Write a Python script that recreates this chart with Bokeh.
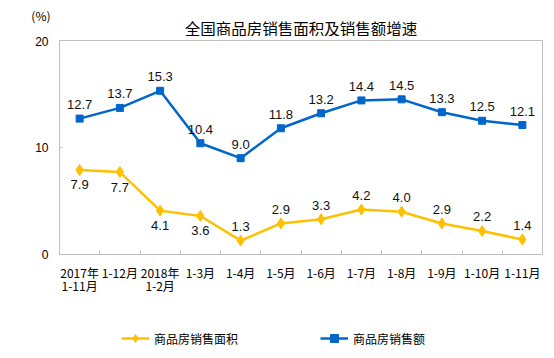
from bokeh.plotting import figure
from bokeh.layouts import column
from bokeh.models import (Range1d, LinearAxis, FixedTicker, Legend, LegendItem,
                          ColumnDataSource)
from bokeh.core.properties import value
from bokeh.embed import file_html
from bokeh.resources import INLINE

TITLE = "全国商品房销售面积及销售额增速"
UNIT = "(%)"
categories = ["2017年", "1-12月", "2018年", "1-3月", "1-4月", "1-5月",
              "1-6月", "1-7月", "1-8月", "1-9月", "1-10月", "1-11月"]
category_second_line = {0: "1-11月", 2: "1-2月"}
area_growth = [7.9, 7.7, 4.1, 3.6, 1.3, 2.9, 3.3, 4.2, 4.0, 2.9, 2.2, 1.4]
sales_growth = [12.7, 13.7, 15.3, 10.4, 9.0, 11.8, 13.2, 14.4, 14.5, 13.3, 12.5, 12.1]
area_label_below = [True, True, True, True, False, False, False, False, False, False, False, False]
y_ticks = [0, 10, 20]
series_names = ["商品房销售面积", "商品房销售额"]

YELLOW = "#FFC000"
BLUE = "#0066CC"
GRAY = "#BFBFBF"
CJK = "Noto Sans CJK SC"
LAT = "Liberation Sans"

n = len(categories)
xs = list(range(n))

BORDER_L, BORDER_R = 59, 12
W = 554

# ---- heading strip (pixel coordinates of the strip): title + unit label ----
HEAD_H = 36
head = figure(width=W, height=HEAD_H, x_range=Range1d(BORDER_L, W - BORDER_R),
              y_range=Range1d(HEAD_H, 0), output_backend="svg", toolbar_location=None,
              x_axis_type=None, title=None, outline_line_color=None,
              min_border_left=BORDER_L, min_border_right=BORDER_R,
              min_border_top=0, min_border_bottom=0)
head.xgrid.visible = False
head.ygrid.visible = False
hy = head.yaxis[0]
hy.ticker = FixedTicker(ticks=[15])
hy.major_label_overrides = {15: UNIT}
hy.axis_line_color = None
hy.major_tick_line_color = None
hy.minor_tick_line_color = None
hy.major_tick_in = 0
hy.major_tick_out = 0
hy.major_label_standoff = 9
hy.major_label_text_font = CJK
hy.major_label_text_font_size = "12px"
hy.major_label_text_color = "#000000"
head.text(x=[(BORDER_L + W - BORDER_R) / 2], y=[27.5], text=[TITLE], text_align="center",
          text_baseline="middle", text_font=value(CJK), text_font_size="15.5px",
          text_color="#000000")

# ---- main chart ----
p = figure(width=W, height=318 - HEAD_H, x_range=Range1d(-0.5, n - 0.5), y_range=Range1d(0, 20),
           output_backend="svg", toolbar_location=None, x_axis_type=None, title=None,
           min_border_left=BORDER_L, min_border_right=BORDER_R, min_border_top=40 - HEAD_H,
           min_border_bottom=64)
p.xgrid.visible = False
p.ygrid.visible = False
p.outline_line_color = GRAY
p.outline_line_width = 1

# x axis (first line of labels + boundary ticks)
xaxis = LinearAxis(ticker=FixedTicker(ticks=xs, minor_ticks=[i + 0.5 for i in range(n - 1)]))
xaxis.major_label_overrides = {i: c for i, c in enumerate(categories)}
xaxis.major_tick_in = 0
xaxis.major_tick_out = 0
xaxis.major_tick_line_color = None
xaxis.minor_tick_in = 4
xaxis.minor_tick_out = 0
xaxis.minor_tick_line_color = GRAY
xaxis.axis_line_color = GRAY
xaxis.major_label_standoff = 9
xaxis.major_label_text_font = CJK
xaxis.major_label_text_font_size = "12px"
xaxis.major_label_text_color = "#000000"
p.add_layout(xaxis, "below")

# second line of the two-line category labels
xaxis2 = LinearAxis(ticker=FixedTicker(ticks=list(category_second_line.keys())))
xaxis2.major_label_overrides = dict(category_second_line)
xaxis2.axis_line_color = None
xaxis2.major_tick_line_color = None
xaxis2.minor_tick_line_color = None
xaxis2.major_tick_in = 0
xaxis2.major_tick_out = 0
xaxis2.major_label_standoff = -7
xaxis2.major_label_text_font = CJK
xaxis2.major_label_text_font_size = "12px"
xaxis2.major_label_text_color = "#000000"
p.add_layout(xaxis2, "below")

# y axis
ya = p.yaxis[0]
ya.ticker = FixedTicker(ticks=y_ticks)
ya.major_tick_in = 3
ya.major_tick_out = 0
ya.major_tick_line_color = GRAY
ya.minor_tick_line_color = None
ya.axis_line_color = GRAY
ya.major_label_standoff = 11
ya.major_label_text_font = LAT
ya.major_label_text_font_size = "12px"
ya.major_label_text_color = "#000000"


def draw_series(fig, ys, color, marker, size):
    ln = fig.line(xs, ys, line_color=color, line_width=2.5)
    mk = fig.scatter(xs, ys, marker=marker, size=size, fill_color=color, line_color=color)
    return ln, mk


draw_series(p, area_growth, YELLOW, "diamond", 11)
draw_series(p, sales_growth, BLUE, "square", 7)

# data labels
blue_src = ColumnDataSource(dict(x=xs, y=sales_growth, t=[f"{v:.1f}" for v in sales_growth]))
p.text("x", "y", text="t", source=blue_src, text_align="center", text_baseline="middle",
       y_offset=-14, text_font=value(LAT), text_font_size="13px", text_color="#111111")
ysrc = ColumnDataSource(dict(x=xs, y=area_growth, t=[f"{v:.1f}" for v in area_growth],
                             off=[15 if b else -14 for b in area_label_below]))
p.text("x", "y", text="t", source=ysrc, text_align="center", text_baseline="middle",
       y_offset="off", text_font=value(LAT), text_font_size="13px", text_color="#111111")

# ---- legend strip below the chart (series drawn out of its view, only the legend shows) ----
lg = figure(width=W, height=40, x_range=Range1d(-100, -99), y_range=Range1d(-100, -99),
            output_backend="svg", toolbar_location=None, x_axis_type=None, y_axis_type=None,
            min_border=0, outline_line_color=None, title=None)
lg.xgrid.visible = False
lg.ygrid.visible = False
yl, ym = draw_series(lg, area_growth, YELLOW, "diamond", 9)
bl, bm = draw_series(lg, sales_growth, BLUE, "square", 7)
legend = Legend(items=[LegendItem(label=series_names[0], renderers=[yl, ym]),
                       LegendItem(label=series_names[1], renderers=[bl, bm])],
                orientation="horizontal", location=(62, 10), padding=0, margin=0,
                spacing=82, glyph_width=28, glyph_height=20, label_standoff=5,
                border_line_color=None, background_fill_alpha=0,
                label_text_font=CJK, label_text_font_size="12px", label_text_color="#000000")
lg.add_layout(legend, "center")

layout = column(head, p, lg, spacing=0)
open("out.html", "w").write(file_html(layout, INLINE))
